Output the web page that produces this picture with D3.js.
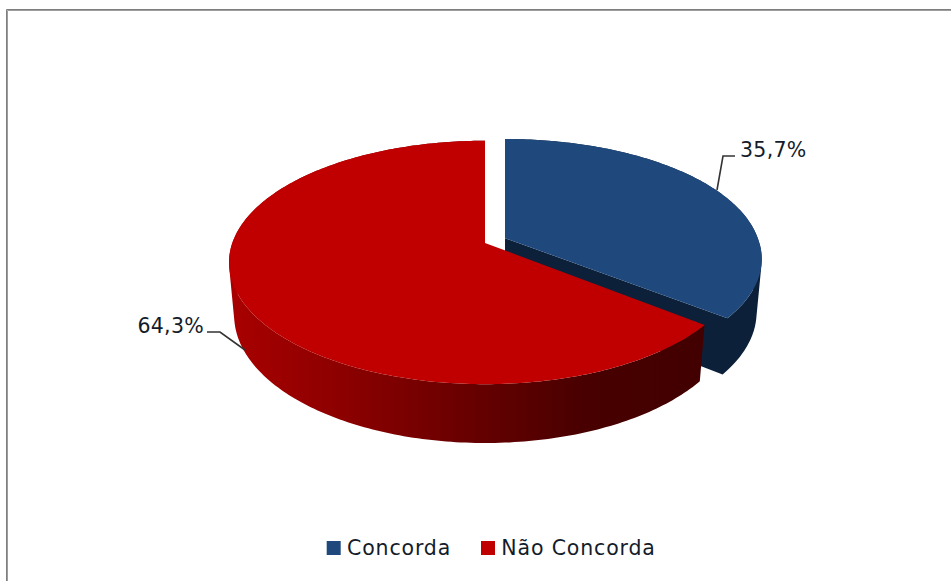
<!DOCTYPE html>
<html>
<head>
<meta charset="utf-8">
<style>
html,body{margin:0;padding:0;background:#fff;overflow:hidden}
text{font-family:"DejaVu Sans",sans-serif;fill:#141c2a}
</style>
<script src="https://cdn.jsdelivr.net/npm/d3@7/dist/d3.min.js"></script>
</head>
<body>
<svg id="chart" width="951" height="581"></svg>
<script>
const categories = ["Concorda", "Não Concorda"];
const shares = [35.7, 64.3];
const topColors = ["#1f497d", "#c00000"];
const wallColors = ["#0d2039", "#0d2039"];
const wallRamp = ["#a80000", "#8a0000", "#680000", "#480000", "#420000"];

const W = 951, H = 581;
const svg = d3.select("#chart");

// Perspective disc: radial pie angles are projected onto the screen plane.
const cx = 485, cy = 243, radiusX = 252.7, radiusY = 118.6;
const persp = 0.16, shrink = 0.02, depth = 53.4;

function project(X, Y, z) {
  const s = 1 / (1 - persp * Y + shrink * z);
  return [cx + radiusX * X * s, cy + (radiusY * Y + depth * z) * s];
}

// Screen shift of the pulled-out slice; it grows towards the viewer
function pullOut(Y) {
  return [20 + 4.5 * Math.max(0, Y), -4.85 - 3.1 * Y];
}

const pie = d3.pie().sort(null).value(d => d);
const arcs = pie(shares);

function place(X, Y, z, exploded) {
  const p = project(X, Y, z);
  if (!exploded) return p;
  const o = pullOut(Y);
  return [p[0] + o[0], p[1] + o[1]];
}
function rim(a0, a1, z, exploded) {
  const n = Math.max(2, Math.ceil((a1 - a0) * 60));
  return d3.range(n + 1).map(i => {
    const a = a0 + (a1 - a0) * i / n;
    return place(Math.sin(a), -Math.cos(a), z, exploded);
  });
}
const line = d3.line().curve(d3.curveLinear);

// Consistently wound quad, so overlapping wall strips never cancel out
function quad(a, b, c, e) {
  const q = [a, b, c, e];
  return line(d3.polygonArea(q) < 0 ? q.reverse() : q) + "Z";
}

// Frame of the chart area, open towards the right and bottom edges
const frame = svg.append("g");
frame.append("path").attr("d", `M6.5,${H}V9.5H${W}`).attr("fill", "none").attr("stroke", "#7f7f7f");
frame.append("path").attr("d", `M7.5,${H}V10.5H${W}`).attr("fill", "none").attr("stroke", "#9c9c9c");

const defs = svg.append("defs");
const grad = defs.append("linearGradient").attr("id", "redWall")
  .attr("gradientUnits", "userSpaceOnUse")
  .attr("x1", cx - radiusX).attr("x2", 705).attr("y1", 0).attr("y2", 0);
wallRamp.forEach((c, i) => grad.append("stop")
  .attr("offset", i / (wallRamp.length - 1)).attr("stop-color", c));

// The smaller slice is drawn first, so the larger one overlaps its cut face
arcs.forEach((d, i) => {
  const exploded = i === 0;
  const g = svg.append("g").attr("class", "slice");
  const topRim = rim(d.startAngle, d.endAngle, 0, exploded);
  const lowRim = rim(d.startAngle, d.endAngle, 1, exploded);
  const apexTop = place(0, 0, 0, exploded);
  const apexLow = place(0, 0, 1, exploded);

  const strips = d3.range(topRim.length - 1)
    .map(k => quad(topRim[k], topRim[k + 1], lowRim[k + 1], lowRim[k]));
  if (exploded) {
    const last = topRim.length - 1;
    strips.push(quad(apexTop, topRim[last], lowRim[last], apexLow));
  }
  g.append("path")
    .attr("d", strips.join(""))
    .attr("fill-rule", "nonzero")
    .attr("fill", i === 1 ? "url(#redWall)" : wallColors[i]);
  g.append("path")
    .attr("d", line([apexTop, ...topRim]) + "Z")
    .attr("fill", topColors[i]);
});

// Value labels with their elbow leaders
const fmt = v => v.toFixed(1).replace(".", ",") + "%";
const labels = [
  {x: 740, y: 157, anchor: "start", leader: [[735, 156], [723, 156], [717, 190]]},
  {x: 204, y: 333, anchor: "end", leader: [[207, 332], [220, 332], [245, 350]]}
];
labels.forEach((l, i) => {
  svg.append("path").attr("d", line(l.leader))
    .attr("fill", "none").attr("stroke", "#333333").attr("stroke-width", 1.6);
  svg.append("text").attr("x", l.x).attr("y", l.y)
    .attr("text-anchor", l.anchor).attr("font-size", 20.5)
    .attr("letter-spacing", 0.3).text(fmt(shares[i]));
});

// Legend
const legendX = d3.scaleOrdinal().domain(categories).range([326.7, 481]);
categories.forEach((c, i) => {
  svg.append("rect").attr("x", legendX(c)).attr("y", 541).attr("width", 14).attr("height", 14)
    .attr("fill", topColors[i]);
  svg.append("text").attr("x", legendX(c) + 20.3).attr("y", 555)
    .attr("font-size", 20.5).attr("letter-spacing", 0.85).text(c);
});
</script>
</body>
</html>
